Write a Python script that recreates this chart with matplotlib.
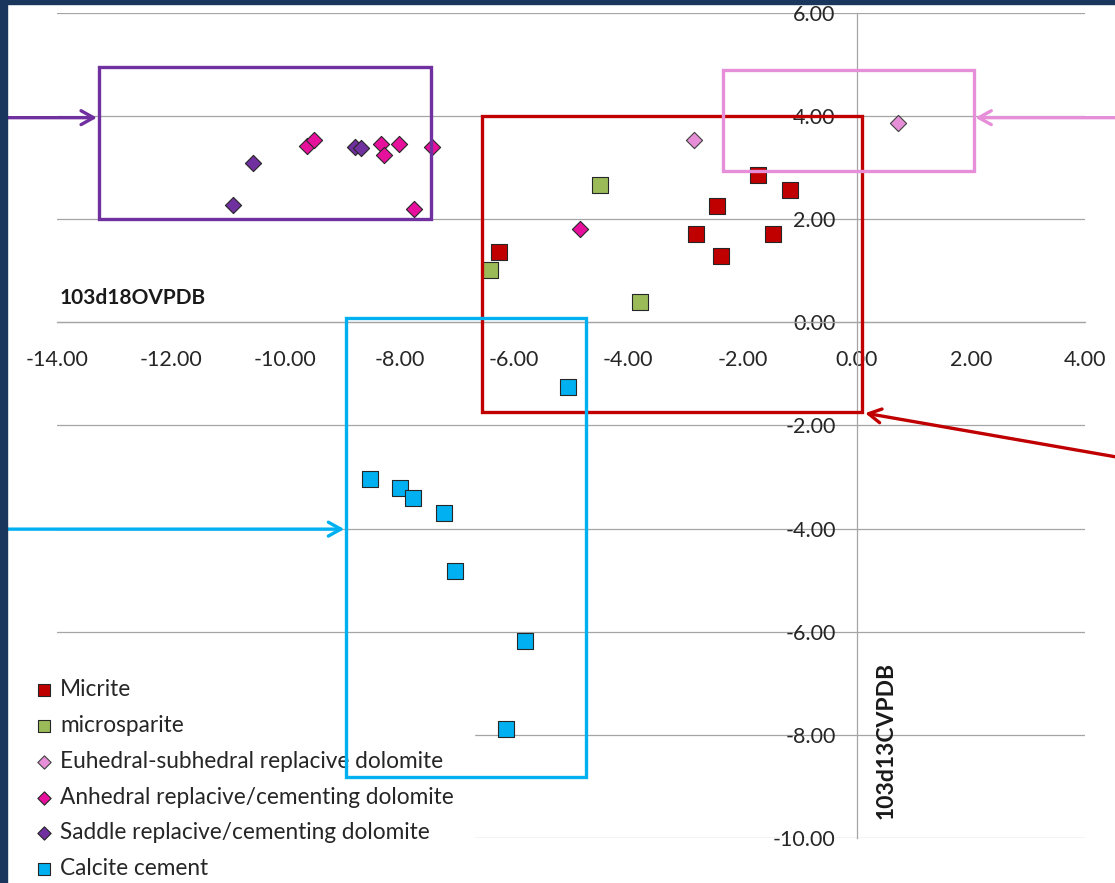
import numpy as np
import matplotlib.pyplot as plt
from matplotlib.patches import Rectangle

plt.rcParams['font.family'] = ['Lato', 'DejaVu Sans']

# -------------------------------
# DATA (d18O VPDB, d13C VPDB)
# -------------------------------
micrite_x = [-6.26, -2.82, -2.45, -2.38, -1.72, -1.47, -1.16]
micrite_y = [1.36, 1.72, 2.25, 1.28, 2.85, 1.71, 2.56]

microspar_x = [-6.41, -4.50, -3.80]
microspar_y = [1.01, 2.66, 0.39]

euhedral_x = [-2.84, 0.72]
euhedral_y = [3.53, 3.86]

anhedral_x = [-9.62, -9.50, -8.33, -8.27, -8.01, -7.43, -7.75, -4.84]
anhedral_y = [3.43, 3.54, 3.46, 3.25, 3.45, 3.41, 2.19, 1.82]

saddle_x = [-10.92, -10.57, -8.78, -8.67]
saddle_y = [2.27, 3.10, 3.41, 3.39]

calcite_x = [-5.05, -8.52, -7.99, -7.76, -7.22, -7.03, -5.80, -6.13]
calcite_y = [-1.26, -3.04, -3.22, -3.41, -3.70, -4.83, -6.18, -7.89]

labels = ['Micrite', 'microsparite', 'Euhedral-subhedral replacive dolomite',
          'Anhedral replacive/cementing dolomite', 'Saddle replacive/cementing dolomite',
          'Calcite cement']

# -------------------------------
# FIGURE
# -------------------------------
fig = plt.figure(figsize=(11.15, 8.83), dpi=100)
ax = fig.add_axes([57 / 1115, 45 / 883, 1028 / 1115, 825 / 883])

# navy frame on the left and top
navy = '#1B365D'
fig.patches.append(Rectangle((0, 0), 7 / 1115, 1, transform=fig.transFigure, color=navy, zorder=0))
fig.patches.append(Rectangle((0, 1 - 4 / 883), 1, 4 / 883, transform=fig.transFigure, color=navy, zorder=0))

ax.set_xlim(-14, 4)
ax.set_ylim(-10, 6)
ax.set_xticks(np.arange(-14, 5, 2))
ax.set_yticks(np.arange(-10, 7, 2))
ax.xaxis.set_major_formatter(plt.FormatStrFormatter('%.2f'))
ax.yaxis.set_major_formatter(plt.FormatStrFormatter('%.2f'))

grid_c = '#A5A5A5'
ax.grid(axis='y', color=grid_c, lw=0.9)
ax.set_axisbelow(True)
for s in ['top', 'right']:
    ax.spines[s].set_visible(False)
ax.spines['left'].set_position(('data', 0))
ax.spines['bottom'].set_position(('data', 0))
for s in ['left', 'bottom']:
    ax.spines[s].set_color(grid_c)
    ax.spines[s].set_linewidth(0.9)
ax.tick_params(axis='both', length=0, labelsize=15.5, colors='#262626')
ax.tick_params(axis='y', pad=15)
ax.tick_params(axis='x', pad=20)

# -------------------------------
# SCATTER SERIES
# -------------------------------
edge = '#262626'
sq = 125
dm = 68
ax.scatter(micrite_x, micrite_y, marker='s', s=sq, c='#C00000', edgecolors=edge, linewidths=0.8, label=labels[0], zorder=3)
ax.scatter(microspar_x, microspar_y, marker='s', s=sq, c='#9BBB59', edgecolors=edge, linewidths=0.8, label=labels[1], zorder=3)
ax.scatter(euhedral_x, euhedral_y, marker='D', s=dm, c='#E68FD8', edgecolors='#404040', linewidths=0.8, label=labels[2], zorder=3)
ax.scatter(anhedral_x, anhedral_y, marker='D', s=dm, c='#E6109C', edgecolors=edge, linewidths=0.8, label=labels[3], zorder=3)
ax.scatter(saddle_x, saddle_y, marker='D', s=dm, c='#7030A0', edgecolors=edge, linewidths=0.8, label=labels[4], zorder=3)
ax.scatter(calcite_x, calcite_y, marker='s', s=sq, c='#00B0F0', edgecolors=edge, linewidths=0.8, label=labels[5], zorder=3)

leg = ax.legend(loc='upper left', bbox_to_anchor=(17 / 1115, 1 - 659 / 883), bbox_transform=fig.transFigure,
                fontsize=16.3, frameon=True, fancybox=False, framealpha=1, edgecolor='white',
                borderpad=0.9, labelspacing=0.65, handlelength=0.6, handletextpad=0.4,
                markerscale=0.82, borderaxespad=0)
for t in leg.get_texts():
    t.set_color('#262626')
leg.set_zorder(5)

# axis titles
fig.text(60 / 1115, 1 - 298 / 883, '103d18OVPDB', fontsize=15, fontweight='bold', va='center', ha='left', color='#1a1a1a')
fig.text(886 / 1115, 1 - 740 / 883, '103d13CVPDB', fontsize=16.5, fontweight='bold', va='center', ha='center',
         rotation=90, color='#1a1a1a')

# -------------------------------
# ANNOTATION BOXES + ARROWS
# -------------------------------
boxes = [
    ((-13.27, 2.00), 5.81, 2.96, '#7030A0'),
    ((-6.55, -1.74), 6.65, 5.75, '#C00000'),
    ((-2.33, 2.93), 4.38, 1.97, '#E68FD8'),
    ((-8.94, -8.82), 4.21, 8.90, '#00B0F0'),
]
for (x0, y0), w, h, col in boxes:
    ax.add_patch(Rectangle((x0, y0), w, h, fill=False, ec=col, lw=2.4, clip_on=False, zorder=6))

arrows = [
    ((-15.0, 3.97), (-13.30, 3.97), '#7030A0'),
    ((4.6, 3.97), (2.08, 3.97), '#E68FD8'),
    ((4.6, -2.62), (0.15, -1.76), '#C00000'),
    ((-15.0, -4.01), (-8.97, -4.01), '#00B0F0'),
]
for start, end, col in arrows:
    ax.annotate('', xy=end, xytext=start, annotation_clip=False, zorder=6,
                arrowprops=dict(arrowstyle='->,head_length=0.9,head_width=0.5', color=col, lw=2.4,
                                shrinkA=0, shrinkB=0))

fig.savefig('out.png', dpi=100)
